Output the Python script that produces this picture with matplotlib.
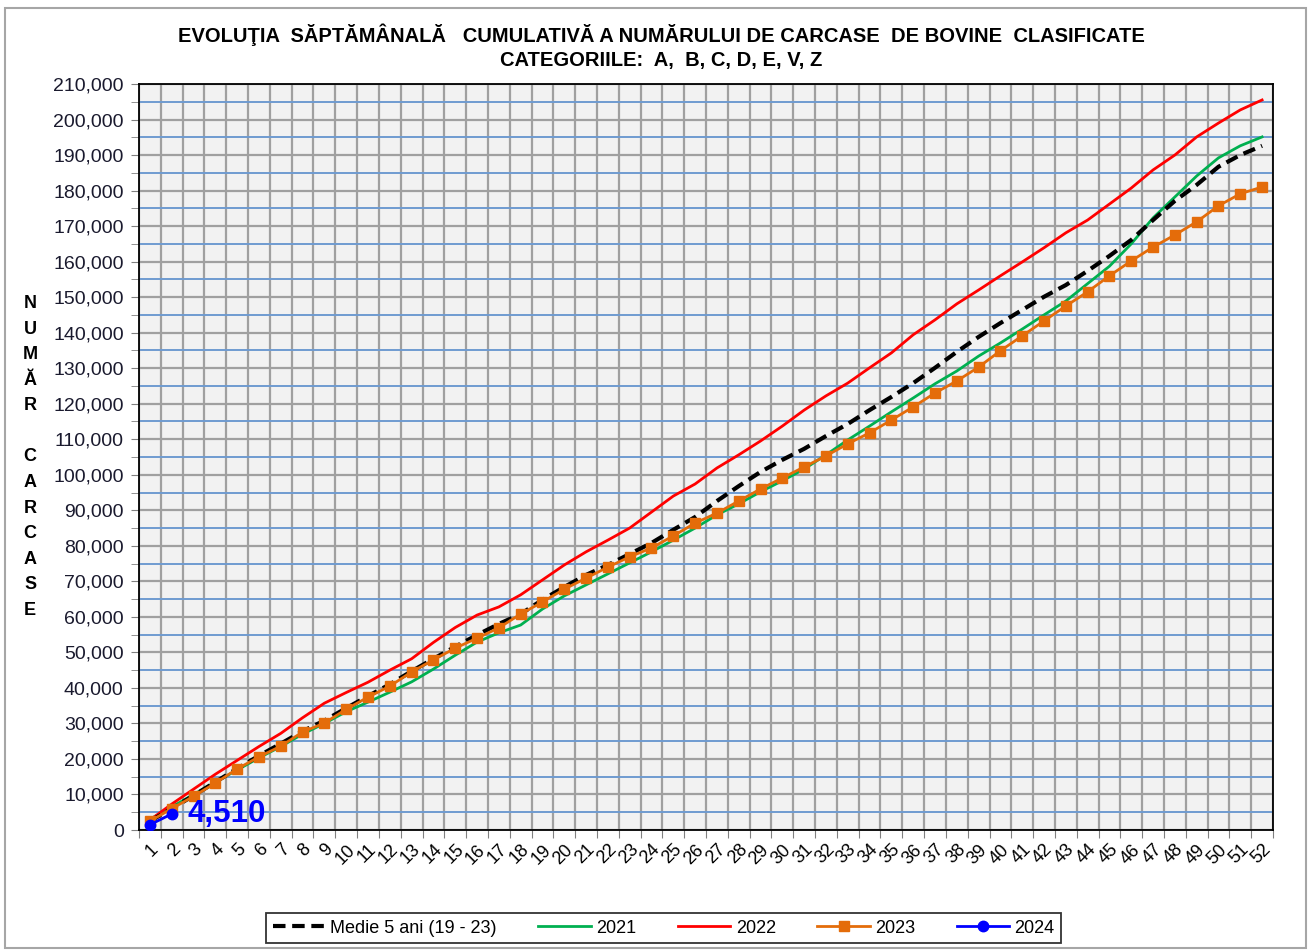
import matplotlib
matplotlib.use("Agg")
import matplotlib.pyplot as plt
from matplotlib.ticker import FuncFormatter, MultipleLocator, FixedLocator
from matplotlib.patches import Rectangle
import numpy as np

plt.rcParams['font.family'] = ['Liberation Sans', 'DejaVu Sans']

weeks = list(range(1, 53))

medie = [2500, 6000, 9700, 13500, 17300, 20900, 24300, 27800, 30800, 34300,
         37700, 41000, 44700, 48200, 51600, 54900, 58000, 60800, 64800, 68400,
         71800, 74600, 77700, 80800, 84500, 88100, 92600, 96800, 100800, 104200,
         107300, 110900, 114300, 118200, 121900, 125800, 130100, 134600, 138800, 142700,
         146400, 150100, 153400, 157400, 161600, 166100, 171700, 177100, 181600, 186700,
         190000, 192600]

an_2021 = [3000, 6500, 10000, 13500, 16900, 20300, 23500, 27000, 30000, 33300,
           36000, 38800, 41700, 45300, 49200, 52900, 55500, 57700, 62200, 65900,
           69000, 72100, 75200, 78300, 81600, 85000, 88700, 91800, 95200, 98300,
           101600, 105600, 109800, 113700, 117700, 121600, 125600, 129200, 133400, 137100,
           141000, 145000, 148900, 153800, 158700, 165000, 172300, 178200, 184100, 189200,
           192600, 195100]

an_2022 = [2800, 7300, 11500, 15700, 19600, 23500, 27200, 31600, 35700, 38700,
           41600, 45000, 48200, 52800, 57000, 60500, 62800, 66200, 70400, 74600,
           78300, 81600, 85000, 89500, 94000, 97400, 101900, 105600, 109500, 113700,
           118200, 122200, 125800, 130100, 134300, 139400, 143600, 148100, 152000, 156000,
           159900, 163900, 168100, 171700, 176200, 180700, 185800, 190000, 195100, 199000,
           202700, 205500]

an_2023 = [2500, 6000, 9500, 13200, 17200, 20600, 23600, 27600, 30100, 34000,
           37400, 40500, 44500, 47900, 51200, 54000, 56900, 60800, 64200, 67800,
           70900, 74000, 76900, 79400, 82800, 86400, 89200, 92600, 96000, 99100,
           102200, 105300, 108700, 111800, 115400, 119100, 123000, 126400, 130300, 134900,
           139100, 143300, 147500, 151500, 156000, 160200, 164100, 167500, 171200, 175700,
           179100, 181000]

an_2024 = [1500, 4510]

titlu = "EVOLUŢIA  SĂPTĂMÂNALĂ   CUMULATIVĂ A NUMĂRULUI DE CARCASE  DE BOVINE  CLASIFICATE\nCATEGORIILE:  A,  B, C, D, E, V, Z"
eticheta_y = "NUMĂR CARCASE"

fig = plt.figure(figsize=(13.09, 9.5), dpi=100)
fig.patches.append(Rectangle((0.004, 0.002), 0.994, 0.99, transform=fig.transFigure,
                             fill=False, edgecolor="#A6A6A6", linewidth=1.5))

ax = fig.add_axes([0.1062, 0.1263, 0.8663, 0.7853])
ax.set_facecolor("#F2F2F2")

ax.plot(weeks, medie, color="black", linestyle=(0, (3, 1.6)), linewidth=3,
        label="Medie 5 ani (19 - 23)", zorder=4)
ax.plot(weeks, an_2021, color="#00B050", linewidth=2, label="2021", zorder=3)
ax.plot(weeks, an_2022, color="#FF0000", linewidth=2, label="2022", zorder=3)
ax.plot(weeks, an_2023, color="#E46C0A", linewidth=2, marker="s", markersize=7.5,
        label="2023", zorder=5)
ax.plot(weeks[:2], an_2024, color="#0000FF", linewidth=2, marker="o", markersize=7.5,
        label="2024", zorder=6)

ax.annotate(f"{an_2024[-1]:,}", xy=(2, an_2024[-1]), xytext=(11, 0),
            textcoords="offset points", color="#0000FF", fontsize=22.5,
            fontweight="bold", va="center", ha="left", zorder=7)

ax.set_xlim(0.5, 52.5)
ax.set_ylim(0, 210000)

# axa x: grila pe marginile categoriilor
ax.xaxis.set_major_locator(FixedLocator(np.arange(0.5, 53, 1)))
ax.xaxis.set_minor_locator(FixedLocator(weeks))
ax.tick_params(axis="x", which="major", length=6, color="#808080", labelbottom=False)
ax.tick_params(axis="x", which="minor", length=0, pad=8)
ax.set_xticklabels([str(w) for w in weeks], minor=True, rotation=45, ha="right",
                   rotation_mode="anchor", fontsize=13)

ax.yaxis.set_major_locator(MultipleLocator(10000))
ax.yaxis.set_minor_locator(MultipleLocator(5000))
ax.yaxis.set_major_formatter(FuncFormatter(lambda v, p: f"{int(v):,}"))
ax.tick_params(axis="y", which="both", length=6, color="#808080", labelsize=14,
               labelcolor="#1a1a2e", pad=5)

ax.grid(which="major", axis="x", color="#A0A0A0", linewidth=1.6)
ax.grid(which="major", axis="y", color="#A0A0A0", linewidth=1.6)
ax.grid(which="minor", axis="y", color="#6F9BD1", linewidth=1.4)
ax.set_axisbelow(True)

for s in ax.spines.values():
    s.set_color("black")
    s.set_linewidth(1.3)

fig.text(0.505, 0.951, titlu, ha="center", va="center", fontsize=14.5,
         fontweight="bold", linespacing=1.3)

fig.text(0.023, 0.519, "\n".join(eticheta_y), ha="center", va="center", fontsize=13,
         fontweight="bold", linespacing=1.66)

leg = fig.legend(loc="center", bbox_to_anchor=(0.507, 0.023), ncol=5, fontsize=13,
                 frameon=True, fancybox=False, edgecolor="black", handlelength=2.9,
                 columnspacing=2.3, handletextpad=0.3, borderpad=0.35)
leg.get_frame().set_linewidth(1.3)

fig.savefig("out.png", dpi=100)
